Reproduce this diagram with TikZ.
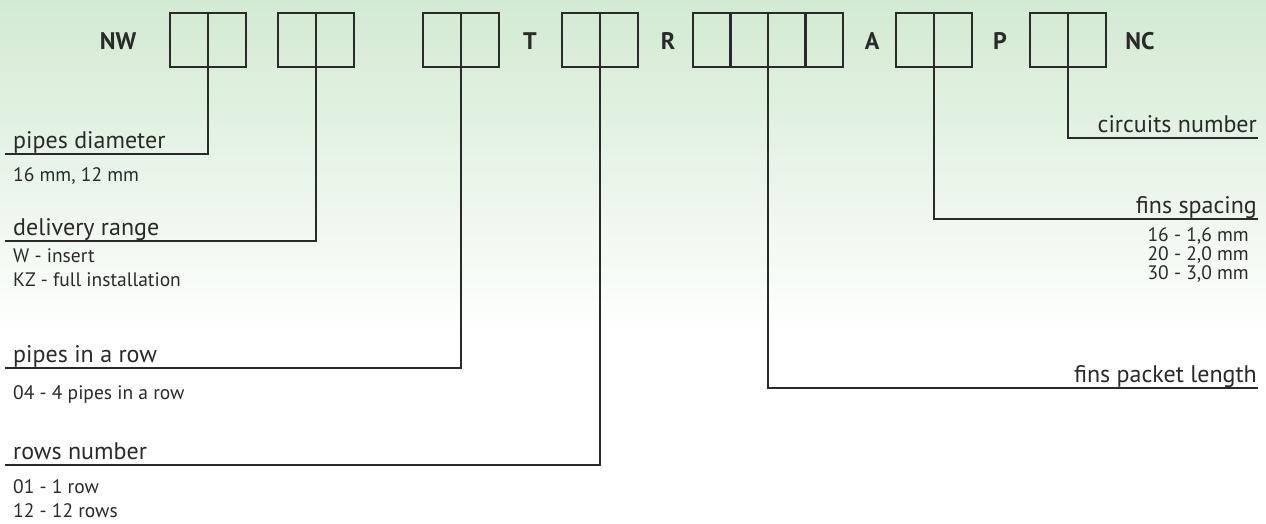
\documentclass[tikz,border=0pt]{standalone}
\usepackage{fontspec}
\setmainfont{PT Sans}
\usetikzlibrary{positioning}
\definecolor{bggreen}{RGB}{210,234,210}
\definecolor{ink}{RGB}{42,42,42}

\begin{document}
\begin{tikzpicture}[x=1pt, y=-1pt,
  cell/.style={draw=ink, line width=2.4pt, minimum width=38pt, minimum height=54pt, inner sep=0pt, outer sep=0pt},
  code/.style={font=\bfseries\fontsize{24}{28}\selectfont, text=ink},
  lbl/.style={font=\fontsize{24}{28}\selectfont, text=ink, inner xsep=8pt, inner ysep=0pt, text depth=5pt},
  note/.style={font=\fontsize{19.5}{24}\selectfont, text=ink, align=left, inner sep=0pt},
  conn/.style={draw=ink, line width=1.8pt}]
\useasboundingbox (0,0) rectangle (1266,523);
\fill[white] (0,0) rectangle (1266,523);
\shade[top color=bggreen, bottom color=white] (0,0) rectangle (1266,340);
% code boxes
\node[cell] (c1a) at (189,40) {};
\node[cell, right=0pt of c1a] (c1b) {};
\node[cell] (c2a) at (297,40) {};
\node[cell, right=0pt of c2a] (c2b) {};
\node[cell] (c3a) at (442,40) {};
\node[cell, right=0pt of c3a] (c3b) {};
\node[cell] (c4a) at (581,40) {};
\node[cell, right=0pt of c4a] (c4b) {};
\node[cell, minimum width=37.5pt] (c5a) at (711.75,40) {};
\node[cell, minimum width=37.5pt, right=0pt of c5a] (c5b) {};
\node[cell, minimum width=37.5pt, right=0pt of c5b] (c5c) {};
\node[cell, minimum width=37.5pt, right=0pt of c5c] (c5d) {};
\node[cell] (c6a) at (915,40) {};
\node[cell, right=0pt of c6a] (c6b) {};
\node[cell] (c7a) at (1049,40) {};
\node[cell, right=0pt of c7a] (c7b) {};
% letters
\node[code] (nw) at (118,41) {NW};
\node[code] (t) at (530,41) {T};
\node[code] (r) at (668,41) {R};
\node[code] (a) at (872,41) {A};
\node[code] (p) at (1000,41) {P};
\node[code] (nc) at (1140,41) {NC};
% labels
\node[lbl, anchor=south west] (dia) at (5,154) {pipes diameter};
\node[lbl, anchor=south west] (dlv) at (5,241) {delivery range};
\node[lbl, anchor=south west] (prow) at (5,368) {pipes in a row};
\node[lbl, anchor=south west] (rows) at (5,465) {rows number};
\node[lbl, anchor=south east, inner xsep=1pt] (circ) at (1258,138) {circuits number};
\node[lbl, anchor=south east, inner xsep=1pt] (fsp) at (1258,219) {fins spacing};
\node[lbl, anchor=south east, inner xsep=1pt] (flen) at (1258,388) {fins packet length};
% notes
\node[note, below right=13pt and 8pt of dia.south west] (diaN) {16 mm, 12 mm};
\node[note, below right=7pt and 8pt of dlv.south west] (dlvN) {W - insert\\KZ - full installation};
\node[note, below right=17pt and 8pt of prow.south west] (prowN) {04 - 4 pipes in a row};
\node[note, below right=14pt and 8pt of rows.south west] (rowsN) {01 - 1 row\\12 - 12 rows};
\node[note, font=\fontsize{19.5}{19}\selectfont, below left=8pt and 9pt of fsp.south east] (fspN) {16 - 1,6 mm\\20 - 2,0 mm\\30 - 3,0 mm};
% connectors
\draw[conn] (c1a.south east) |- (dia.south west);
\draw[conn] (c2a.south east) |- (dlv.south west);
\draw[conn] (c3a.south east) |- (prow.south west);
\draw[conn] (c4a.south east) |- (rows.south west);
\draw[conn] (c5b.south east) |- (flen.south east);
\draw[conn] (c6a.south east) |- (fsp.south east);
\draw[conn] (c7a.south east) |- (circ.south east);
\end{tikzpicture}
\end{document}
